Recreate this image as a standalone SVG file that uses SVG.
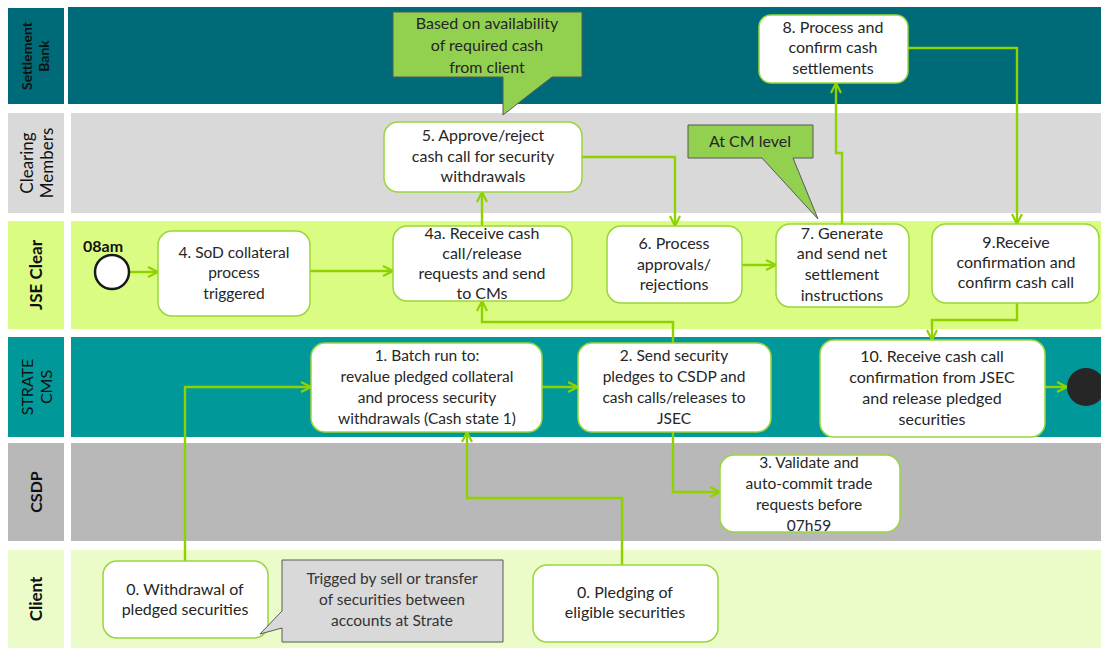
<svg xmlns="http://www.w3.org/2000/svg" width="1101" height="648" viewBox="0 0 1101 648">
<defs>
<marker id="arr" viewBox="0 0 12 12" refX="11" refY="6" markerWidth="12" markerHeight="12" markerUnits="userSpaceOnUse" orient="auto">
<path d="M1,1 L11,6 L1,11" fill="none" stroke="#8ED300" stroke-width="2.2"/>
</marker>
<style>
.lt{font-family:Lato,"Liberation Sans",sans-serif;font-size:15px;fill:#111;text-anchor:middle;font-weight:bold}
.ltn{font-weight:normal}
.node{fill:#ffffff;stroke:#99D63A;stroke-width:1.5}
.t{font-family:Lato,"Liberation Sans",sans-serif;font-size:16px;fill:#262626;text-anchor:middle}
.ts{font-size:15.5px}
.c{fill:none;stroke:#8ED300;stroke-width:2.4;marker-end:url(#arr)}
.co{fill:#92D050;stroke:#595959;stroke-width:1}
</style>
</defs>
<rect x="0" y="0" width="1101" height="648" fill="#ffffff"/>
<g id="lanes">
<rect x="8" y="8" width="56" height="96" fill="#006B78"/>
<rect x="68" y="7" width="1033" height="97" fill="#006B78"/>
<rect x="8" y="113" width="56" height="100" fill="#D9D9D9"/>
<rect x="71" y="113" width="1030" height="100" fill="#D9D9D9"/>
<rect x="8" y="221" width="56" height="108" fill="#DAFC82"/>
<rect x="71" y="221" width="1030" height="108" fill="#DAFC82"/>
<rect x="8" y="337" width="56" height="100" fill="#009898"/>
<rect x="71" y="337" width="1030" height="100" fill="#009898"/>
<rect x="8" y="443" width="56" height="98" fill="#B8B8B8"/>
<rect x="71" y="443" width="1030" height="98" fill="#B8B8B8"/>
<rect x="8" y="550" width="56" height="98" fill="#EBFCC8"/>
<rect x="71" y="550" width="1030" height="98" fill="#EBFCC8"/>
<text class="lt" transform="translate(36,56) rotate(-90)" style="font-size:14px"><tspan x="0" y="-4">Settlement</tspan><tspan x="0" y="13">Bank</tspan></text>
<text class="lt ltn" transform="translate(36,163) rotate(-90)" style="font-size:17px"><tspan x="0" y="-3">Clearing</tspan><tspan x="0" y="17">Members</tspan></text>
<text class="lt" transform="translate(36,275) rotate(-90)" style="font-size:17px"><tspan x="0" y="6">JSE Clear</tspan></text>
<text class="lt ltn" transform="translate(36,387) rotate(-90)" style="font-size:16px"><tspan x="0" y="-3">STRATE</tspan><tspan x="0" y="16">CMS</tspan></text>
<text class="lt" transform="translate(36,492) rotate(-90)" style="font-size:16px"><tspan x="0" y="6">CSDP</tspan></text>
<text class="lt" transform="translate(36,599) rotate(-90)" style="font-size:17px"><tspan x="0" y="6">Client</tspan></text>
</g>
<g id="connectors">
<path class="c" d="M130,272 L158,272"/>
<path class="c" d="M310,271 L393,271"/>
<path class="c" d="M482,226 L482,192"/>
<path class="c" d="M582,157 L675,157 L675,226"/>
<path class="c" d="M742,265 L776,265"/>
<path class="c" d="M842,224 L842,153 L836,153 L836,83"/>
<path class="c" d="M908,48 L1017,48 L1017,224"/>
<path class="c" d="M1017,303 L1017,320 L932,320 L932,340"/>
<path class="c" d="M1045,387 L1067,387"/>
<path class="c" d="M542,387 L578,387"/>
<path class="c" d="M673,343 L673,322 L482,322 L482,301"/>
<path class="c" d="M673,432 L673,492 L720,492"/>
<path class="c" d="M185,561 L185,387 L311,387"/>
<path class="c" d="M622,565 L622,498 L467,498 L467,432"/>
</g>
<g id="callout-cash">
<path class="co" d="M393,12 L582,12 L582,77 L552,77 L503,115 L503,77 L393,77 Z"/>
<text class="t"><tspan x="487" y="29">Based on availability</tspan><tspan x="487" y="51">of required cash</tspan><tspan x="487" y="73">from client</tspan></text>
</g>
<g id="callout-cm">
<path class="co" d="M688,125 L813,125 L813,158 L793,158 L818,219 L762,158 L688,158 Z"/>
<text class="t"><tspan x="750" y="147">At CM level</tspan></text>
</g>
<g id="start">
<circle cx="112" cy="272" r="17" fill="#ffffff" stroke="#1a1a1a" stroke-width="2.5"/>
<text x="83" y="252" style="font-family:Lato,'Liberation Sans',sans-serif;font-size:16px;font-weight:bold;fill:#111">08am</text>
</g>
<g id="n4">
<rect class="node" x="158" y="231" width="152" height="85" rx="14"/>
<text class="t ts"><tspan x="234" y="258">4. SoD collateral</tspan><tspan x="234" y="278">process</tspan><tspan x="234" y="299">triggered</tspan></text>
</g>
<g id="n4a">
<rect class="node" x="393" y="226" width="179" height="75" rx="14"/>
<text class="t"><tspan x="482" y="239">4a. Receive cash</tspan><tspan x="482" y="259">call/release</tspan><tspan x="482" y="279">requests and send</tspan><tspan x="482" y="299">to CMs</tspan></text>
</g>
<g id="n5">
<rect class="node" x="384" y="122" width="198" height="70" rx="14"/>
<text class="t"><tspan x="483" y="141">5. Approve/reject</tspan><tspan x="483" y="162">cash call for security</tspan><tspan x="483" y="182">withdrawals</tspan></text>
</g>
<g id="n6">
<rect class="node" x="607" y="226" width="135" height="77" rx="14"/>
<text class="t"><tspan x="674" y="249">6. Process</tspan><tspan x="674" y="270">approvals/</tspan><tspan x="674" y="290">rejections</tspan></text>
</g>
<g id="n7">
<rect class="node" x="776" y="224" width="133" height="83" rx="14"/>
<text class="t"><tspan x="842" y="239">7. Generate</tspan><tspan x="842" y="259">and send net</tspan><tspan x="842" y="280">settlement</tspan><tspan x="842" y="301">instructions</tspan></text>
</g>
<g id="n8">
<rect class="node" x="759" y="15" width="149" height="68" rx="12"/>
<text class="t"><tspan x="833" y="33">8. Process and</tspan><tspan x="833" y="53">confirm cash</tspan><tspan x="833" y="74">settlements</tspan></text>
</g>
<g id="n9">
<rect class="node" x="932" y="224" width="167" height="79" rx="14"/>
<text class="t"><tspan x="1016" y="248">9.Receive</tspan><tspan x="1016" y="268">confirmation and</tspan><tspan x="1016" y="288">confirm cash call</tspan></text>
</g>
<g id="n1">
<rect class="node" x="311" y="343" width="231" height="89" rx="14"/>
<text class="t ts"><tspan x="427" y="361">1. Batch run to:</tspan><tspan x="427" y="382">revalue pledged collateral</tspan><tspan x="427" y="403">and process security</tspan><tspan x="427" y="424">withdrawals (Cash state 1)</tspan></text>
</g>
<g id="n2">
<rect class="node" x="578" y="343" width="193" height="89" rx="14"/>
<text class="t ts"><tspan x="674" y="361">2. Send security</tspan><tspan x="674" y="382">pledges to CSDP and</tspan><tspan x="674" y="403">cash calls/releases to</tspan><tspan x="674" y="424">JSEC</tspan></text>
</g>
<g id="n10">
<rect class="node" x="820" y="340" width="225" height="97" rx="14"/>
<text class="t"><tspan x="932" y="362">10. Receive cash call</tspan><tspan x="932" y="383">confirmation from JSEC</tspan><tspan x="932" y="404">and release pledged</tspan><tspan x="932" y="425">securities</tspan></text>
</g>
<g id="end">
<circle cx="1086" cy="387" r="19" fill="#262626"/>
</g>
<g id="n3">
<rect class="node" x="720" y="455" width="180" height="77" rx="14"/>
<text class="t ts"><tspan x="809" y="468">3. Validate and</tspan><tspan x="809" y="489">auto-commit trade</tspan><tspan x="809" y="510">requests before</tspan><tspan x="809" y="531">07h59</tspan></text>
</g>
<g id="n0w">
<rect class="node" x="103" y="561" width="165" height="77" rx="14"/>
<text class="t"><tspan x="185" y="595">0. Withdrawal of</tspan><tspan x="185" y="615">pledged securities</tspan></text>
</g>
<g id="callout-trig">
<path d="M282,560 L503,560 L503,642 L282,642 L282,628 L260,634 L282,611 Z" fill="#D9D9D9" stroke="#595959" stroke-width="1"/>
<text class="t ts" style="fill:#333"><tspan x="392" y="584">Trigged by sell or transfer</tspan><tspan x="392" y="605">of securities between</tspan><tspan x="392" y="626">accounts at Strate</tspan></text>
</g>
<g id="n0p">
<rect class="node" x="533" y="565" width="185" height="77" rx="14"/>
<text class="t"><tspan x="625" y="598">0. Pledging of</tspan><tspan x="625" y="618">eligible securities</tspan></text>
</g>
</svg>
